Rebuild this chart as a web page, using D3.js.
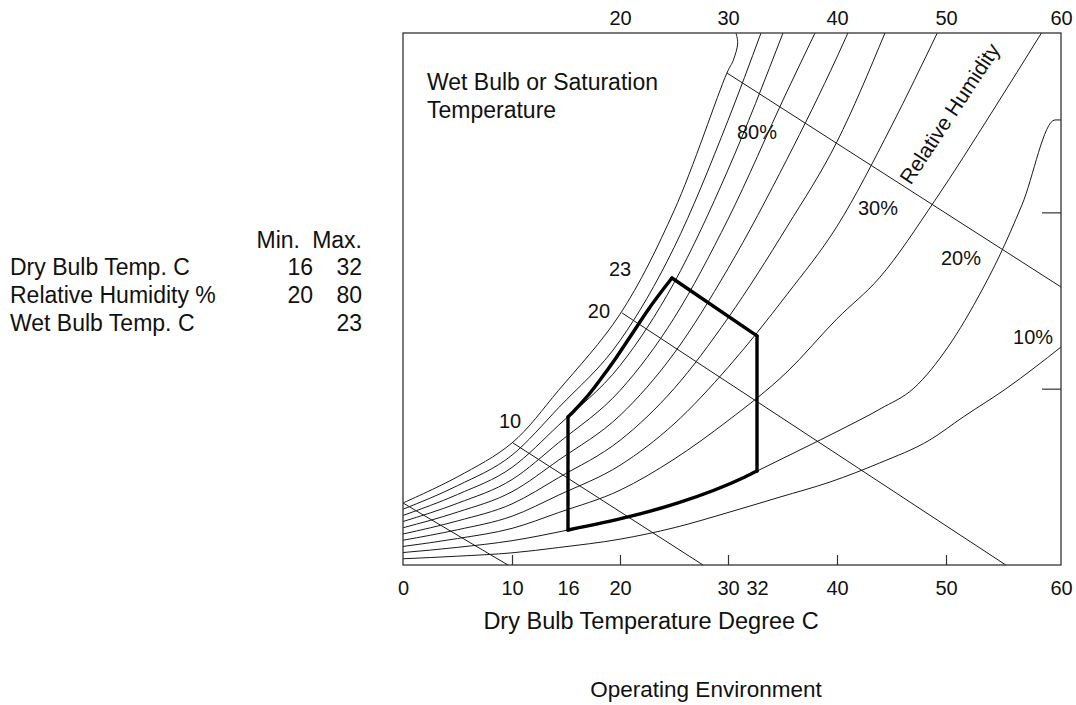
<!DOCTYPE html>
<html>
<head>
<meta charset="utf-8">
<script src="https://cdn.jsdelivr.net/npm/d3@7/dist/d3.min.js"></script>
<style>
  body { margin: 0; background: #fff; }
  svg text { font-family: "Liberation Sans", Arial, sans-serif; fill: #111; }
</style>
</head>
<body>
<div id="chart"></div>
<script>
// dry bulb (deg C) tick labels, bottom and top
const bottomTicks = [0, 10, 16, 20, 30, 32, 40, 50, 60];
const innerTicks = [10, 20, 30, 40, 50];
const topTicks = [20, 30, 40, 50, 60];
const rightTicks = [11.6, 23.2];

// relative humidity curves, [dry bulb C, moisture g/kg]
const rh100 = [[0,4.08],[5,5.8],[10,8.03],[15,11.5],[20,16.5],[25,23.3],[29.9,32.37],[30.37,33.22],[30.67,34.34],[30.55,35]];
const rh90 = [[0,3.67],[5,5.22],[10,7.23],[15,10.35],[20,14.76],[25,20.88],[30,29.25],[32.4,35]];
const rh80 = [[0,3.26],[5,4.64],[10,6.42],[15,9.2],[20,13.12],[25,18.56],[30,26.0],[34.6,35]];
const rh70 = [[0,2.86],[5,4.06],[10,5.62],[15,8.05],[20,11.48],[25,16.24],[30,22.75],[35,31.15],[37.8,35]];
const rh60 = [[0,2.45],[5,3.48],[10,4.82],[15,6.9],[20,9.84],[25,13.92],[30,19.5],[35,26.7],[40,33.42],[41,35]];
const rh50 = [[0,2.04],[5,2.9],[10,4.02],[15,5.75],[20,8.2],[25,11.6],[30,16.25],[35,22.25],[40,27.85],[44.4,35]];
const rh40 = [[0,1.63],[5,2.32],[10,3.21],[15,4.6],[20,6.56],[25,9.28],[30,13.0],[35,17.8],[40,22.28],[45,28.88],[49.2,35]];
const rh30 = [[0,1.22],[5,1.74],[10,2.41],[15,3.45],[20,4.92],[25,6.96],[30,9.5],[35,12.7],[40,16.2],[43.9,18.9],[49,24.0],[54,29.8],[58.3,35]];
const rh20 = [[0,0.82],[5,1.16],[10,1.6],[16,2.3],[20.74,3.16],[25.37,4.08],[31.17,5.79],[32,6.18],[36.3,7.57],[40.28,8.88],[43.94,10.26],[47.06,11.64],[50.17,14.34],[53.13,18.09],[54.6,20.26],[56.6,23.68],[59.48,29.28],[60,29.28]];
const rh10 = [[0,0.41],[5,0.58],[10,0.8],[15,1.15],[20,1.7],[25,2.45],[30.14,3.49],[34.3,4.47],[39.3,5.46],[43.9,6.71],[48.5,8.22],[51.5,9.74],[55.3,11.64],[60,14.34]];

// wet bulb lines
const wbNames = [0, 10, 20, 30];
const wbStart = [[0,4.08],[10.1,8.03],[20.19,16.58],[29.9,32.37]];
const wbEnd = [[9.63,0],[27.69,0],[55.2,0],[60,18.29]];

// operating envelope (bold)
const envLeft = [[16,2.3],[16,9.74]];
const envUpper = [[16,9.74],[16.46,10.13],[17.38,10.99],[18.46,12.17],[19.69,13.62],[21.11,15.2],[22.59,16.78],[24.81,18.88]];
const envWetBulb = [[24.81,18.88],[32,15.07]];
const envRight = [[32,15.07],[32,6.18]];
const envLower = [[16,2.3],[20.74,3.16],[25.37,4.08],[31.17,5.79],[32,6.18]];

// labels on the chart
const curveLabels = ["80%", "30%", "20%", "10%", "23", "20", "10"];
const curveLabelAt = [[32,28.49],[43.76,23.49],[51.3,20.2],[57.57,15.0],[20,19.47],[18.38,16.71],[9.82,9.47]];

// spec table
const specRows = ["Dry Bulb Temp. C", "Relative Humidity %", "Wet Bulb Temp. C"];
const specMin = ["16", "20", ""];
const specMax = ["32", "80", "23"];

const width = 1076, height = 705;
const svg = d3.select("#chart").append("svg").attr("width", width).attr("height", height);

const x = d3.scaleLinear().domain(bottomTicks)
    .range([403, 512, 568, 620, 728, 757, 837, 946, 1061]);
const y = d3.scaleLinear().domain([0, 35]).range([565, 33]);

const curves = [rh100, rh90, rh80, rh70, rh60, rh50, rh40, rh30, rh20, rh10];
const smooth = d3.line().x(d => x(d[0])).y(d => y(d[1])).curve(d3.curveMonotoneX);
const bent = d3.line().x(d => x(d[0])).y(d => y(d[1])).curve(d3.curveCatmullRom.alpha(0.5));
const straight = d3.line().x(d => x(d[0])).y(d => y(d[1]));

const plot = svg.append("g");

// saturation curve bends back at the top, so it gets catmull-rom
plot.selectAll(".rh").data(curves).enter().append("path")
    .attr("class", "rh")
    .attr("d", (d, i) => i == 0 ? bent(d) : smooth(d))
    .attr("fill", "none").attr("stroke", "#1a1a1a").attr("stroke-width", 1);

plot.selectAll(".wb").data(wbNames).enter().append("path")
    .attr("class", "wb")
    .attr("d", (d, i) => straight([wbStart[i], wbEnd[i]]))
    .attr("fill", "none").attr("stroke", "#1a1a1a").attr("stroke-width", 1);

// envelope
[envLeft, envUpper, envWetBulb, envRight, envLower].forEach(seg => {
    plot.append("path")
        .attr("d", seg.length > 2 ? smooth(seg) : straight(seg))
        .attr("fill", "none").attr("stroke", "#000").attr("stroke-width", 3.4)
        .attr("stroke-linecap", "round").attr("stroke-linejoin", "round");
});

// frame
svg.append("rect").attr("x", x(0)).attr("y", y(35))
    .attr("width", x(60) - x(0)).attr("height", y(0) - y(35))
    .attr("fill", "none").attr("stroke", "#333").attr("stroke-width", 1.3);

// bottom axis labels
const xAxis = svg.append("g").attr("transform", "translate(0," + y(0) + ")")
    .call(d3.axisBottom(x).tickValues(bottomTicks).tickSize(0).tickPadding(16).tickFormat(d3.format("d")));
xAxis.select(".domain").remove();
xAxis.selectAll("text").style("font-size", "20px").attr("fill", "#111");

// inner ticks on bottom
const xInner = svg.append("g").attr("transform", "translate(0," + y(0) + ")")
    .call(d3.axisBottom(x).tickValues(innerTicks).tickSize(-10).tickFormat(""));
xInner.select(".domain").remove();
xInner.selectAll("line").attr("stroke", "#333").attr("stroke-width", 1.2);

// top axis labels
const xTop = svg.append("g").attr("transform", "translate(0," + y(35) + ")")
    .call(d3.axisTop(x).tickValues(topTicks).tickSize(0).tickPadding(8).tickFormat(d3.format("d")));
xTop.select(".domain").remove();
xTop.selectAll("text").style("font-size", "20px").attr("fill", "#111");

// right inner ticks
const yRight = svg.append("g").attr("transform", "translate(" + x(60) + ",0)")
    .call(d3.axisRight(y).tickValues(rightTicks).tickSize(-19).tickFormat(""));
yRight.select(".domain").remove();
yRight.selectAll("line").attr("stroke", "#333").attr("stroke-width", 1.2);

// curve labels
svg.selectAll(".clab").data(curveLabels).enter().append("text")
    .attr("class", "clab")
    .attr("x", (d, i) => x(curveLabelAt[i][0]))
    .attr("y", (d, i) => y(curveLabelAt[i][1]))
    .attr("dy", "0.36em")
    .attr("text-anchor", "middle")
    .style("font-size", "20px")
    .text(d => d);

svg.append("text")
    .attr("transform", "translate(" + x(50.3) + "," + y(29.7) + ") rotate(-56.5)")
    .attr("text-anchor", "middle").attr("dy", "0.36em")
    .style("font-size", "21px")
    .text("Relative Humidity");

svg.append("text").attr("x", 427).attr("y", 90).style("font-size", "23px").text("Wet Bulb or Saturation");
svg.append("text").attr("x", 427).attr("y", 118).style("font-size", "23px").text("Temperature");

svg.append("text").attr("x", 651).attr("y", 629).attr("text-anchor", "middle")
    .style("font-size", "23.5px").text("Dry Bulb Temperature Degree C");
svg.append("text").attr("x", 706).attr("y", 697).attr("text-anchor", "middle")
    .style("font-size", "22.5px").text("Operating Environment");

// spec table
const table = svg.append("g").style("font-size", "23px");
table.append("text").attr("x", 300).attr("y", 248).attr("text-anchor", "end").text("Min.");
table.append("text").attr("x", 362).attr("y", 248).attr("text-anchor", "end").text("Max.");
specRows.forEach((r, i) => {
    const yy = 275 + i * 28;
    table.append("text").attr("x", 10).attr("y", yy).text(r);
    table.append("text").attr("x", 313).attr("y", yy).attr("text-anchor", "end").text(specMin[i]);
    table.append("text").attr("x", 362).attr("y", yy).attr("text-anchor", "end").text(specMax[i]);
});
</script>
</body>
</html>
